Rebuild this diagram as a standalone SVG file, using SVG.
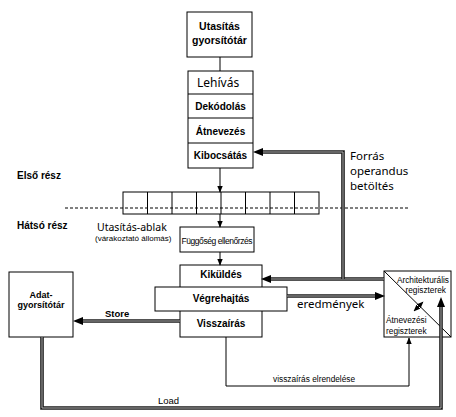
<svg xmlns="http://www.w3.org/2000/svg" width="456" height="417" viewBox="0 0 456 417">
<style>
.box{fill:#fff;stroke:#000;stroke-width:1}
.b{font-family:"Liberation Sans",Arial,sans-serif;font-weight:bold;font-size:10px;fill:#000}
.r{font-family:"Liberation Sans",Arial,sans-serif;font-size:8.3px;fill:#000}
.n{font-family:"Noto Sans","DejaVu Sans",sans-serif;font-size:11.5px;fill:#000}
.c{text-anchor:middle}
.thin{fill:none;stroke:#000;stroke-width:1}
.dbl{fill:none;stroke:#1a1a1a;stroke-width:3.6}
.dbli{fill:none;stroke:#b0b0b0;stroke-width:1}
</style>
<defs>
<marker id="ah" markerUnits="userSpaceOnUse" markerWidth="10" markerHeight="10" viewBox="0 0 10 10" refX="9" refY="5" orient="auto">
<path d="M0,1 L10,5 L0,9 Z" fill="#000"/>
</marker>
<marker id="as" markerUnits="userSpaceOnUse" markerWidth="7" markerHeight="7" viewBox="0 0 10 10" refX="9" refY="5" orient="auto">
<path d="M0,1 L10,5 L0,9 Z" fill="#000"/>
</marker>
<marker id="asr" markerUnits="userSpaceOnUse" markerWidth="7" markerHeight="7" viewBox="0 0 10 10" refX="1" refY="5" orient="auto">
<path d="M10,1 L0,5 L10,9 Z" fill="#000"/>
</marker>
</defs>

<g id="labels">
<text class="b" x="17" y="179">Első rész</text>
<text class="b" x="17" y="229">Hátsó rész</text>
<line x1="65" y1="208" x2="410" y2="208" stroke="#000" stroke-width="1" stroke-dasharray="3,2"/>
<text class="n" x="97" y="231" style="font-size:10.5px">Utasítás-ablak</text>
<text class="r" x="95" y="241" style="font-size:8px">(várakoztató állomás)</text>
<text class="n" x="350" y="160">Forrás</text>
<text class="n" x="350" y="175">operandus</text>
<text class="n" x="350" y="190">betöltés</text>
<text class="n" x="297" y="308">eredmények</text>
<text class="b" x="105" y="317" style="font-size:9.5px">Store</text>
<text class="b" x="158" y="404" style="font-size:9.5px;font-weight:normal">Load</text>
<text class="r" x="273" y="382">visszaírás elrendelése</text>
</g>

<g id="instr-cache">
<rect class="box" x="187" y="12" width="65" height="45"/>
<text class="b c" x="219.5" y="30" style="font-size:10.5px">Utasítás</text>
<text class="b c" x="219.5" y="44" style="font-size:10.5px">gyorsítótár</text>
</g>

<g id="frontend">
<rect class="box" x="188" y="71" width="65" height="97"/>
<line x1="188" y1="94" x2="253" y2="94" stroke="#000"/>
<line x1="188" y1="118" x2="253" y2="118" stroke="#000"/>
<line x1="188" y1="143" x2="253" y2="143" stroke="#000"/>
<text class="n" x="197" y="87" style="font-size:12px">Lehívás</text>
<text class="b c" x="220.5" y="110">Dekódolás</text>
<text class="b c" x="220.5" y="135">Átnevezés</text>
<text class="b c" x="220.5" y="159">Kibocsátás</text>
</g>

<g id="window">
<rect x="123" y="192" width="196" height="22" fill="none" stroke="#000"/>
<g stroke="#000" stroke-width="1">
<line x1="147.5" y1="192" x2="147.5" y2="214"/>
<line x1="172" y1="192" x2="172" y2="214"/>
<line x1="196.5" y1="192" x2="196.5" y2="214"/>
<line x1="221" y1="192" x2="221" y2="214"/>
<line x1="245.5" y1="192" x2="245.5" y2="214"/>
<line x1="270" y1="192" x2="270" y2="214"/>
<line x1="294.5" y1="192" x2="294.5" y2="214"/>
</g>
</g>

<g id="dep-check">
<rect class="box" x="180" y="227" width="74" height="25"/>
<text class="r c" x="217" y="244" style="font-size:8.5px" textLength="71">Függőség ellenőrzés</text>
</g>

<g id="exec">
<rect class="box" x="180" y="265" width="82" height="72"/>
<rect class="box" x="155" y="287" width="132" height="24"/>
<text class="b c" x="221" y="278">Kiküldés</text>
<text class="b c" x="221" y="302">Végrehajtás</text>
<text class="b c" x="221" y="327">Visszaírás</text>
</g>

<g id="data-cache">
<rect class="box" x="9" y="272" width="64" height="65"/>
<text class="b c" x="41" y="298" style="font-size:9px">Adat-</text>
<text class="b c" x="41" y="308" style="font-size:9px">gyorsítótár</text>
</g>

<g id="regfile">
<rect class="box" x="384" y="271" width="67" height="66"/>
<line x1="384" y1="271" x2="451" y2="337" stroke="#000"/>
<text class="r" x="449" y="283" text-anchor="end">Architekturális</text>
<text class="r" x="446" y="293" text-anchor="end">regiszterek</text>
<text class="r" x="386" y="323">Átnevezési</text>
<text class="r" x="386" y="334">regiszterek</text>
<line x1="414" y1="311" x2="423" y2="302" stroke="#000" stroke-width="0.9" marker-start="url(#asr)" marker-end="url(#as)"/>
</g>

<g id="connectors">
<line class="thin" x1="220" y1="57" x2="220" y2="71"/>
<line class="thin" x1="220" y1="168" x2="220" y2="192" marker-end="url(#as)"/>
<line class="thin" x1="220" y1="214" x2="220" y2="227" marker-end="url(#as)"/>
<line class="thin" x1="220" y1="252" x2="220" y2="265" marker-end="url(#as)"/>
<path class="thin" d="M226,337 V386 H409 V338" marker-end="url(#as)"/>

<path class="dbl" d="M384,279 H270"/>
<path class="dbli" d="M384,279 H270"/>
<line x1="271" y1="279" x2="262" y2="279" stroke="none" marker-end="url(#ah)"/>

<path class="dbl" d="M343,279 V152 H262"/>
<path class="dbli" d="M343,279 V152 H262"/>
<line x1="263" y1="152" x2="254" y2="152" stroke="none" marker-end="url(#ah)"/>

<path class="dbl" d="M287,296 H376"/>
<path class="dbli" d="M287,296 H376"/>
<line x1="375" y1="296" x2="384" y2="296" stroke="none" marker-end="url(#ah)"/>

<path class="dbl" d="M180,321 H82"/>
<path class="dbli" d="M180,321 H82"/>
<line x1="83" y1="321" x2="74" y2="321" stroke="none" marker-end="url(#ah)"/>

<path class="dbl" d="M42,337 V408 H441 V306"/>
<path class="dbli" d="M42,337 V408 H441 V306"/>
<line x1="441" y1="307" x2="441" y2="298" stroke="none" marker-end="url(#ah)"/>
</g>
</svg>
